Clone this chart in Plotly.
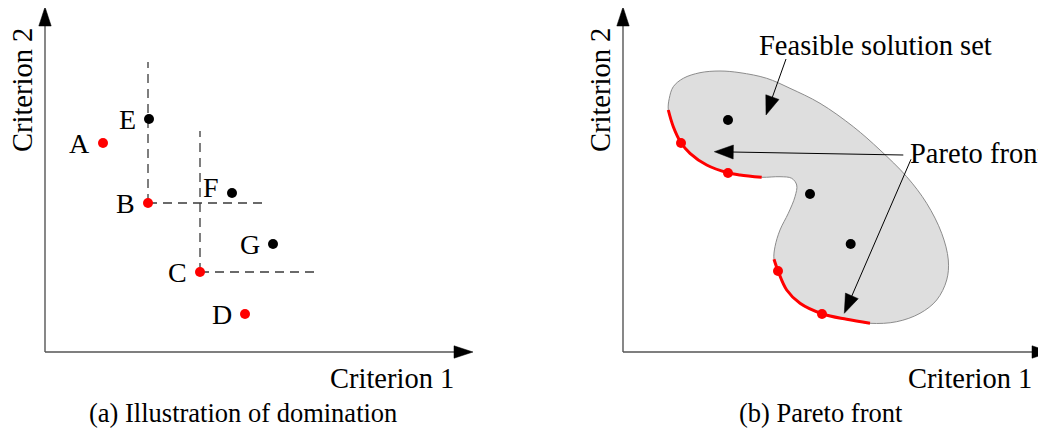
import math
import plotly.graph_objects as go

FONT = "Liberation Serif"

# ---------------- Panel (a): illustration of domination ----------------
dom_names = ["A", "B", "C", "D", "E", "F", "G"]
dom_x = [5.8, 10.3, 15.5, 20.0, 10.4, 18.7, 22.8]
dom_y = [20.9, 14.9, 8.0, 3.8, 23.3, 15.9, 10.8]
dom_nondominated = [True, True, True, True, False, False, False]

# dominance cones drawn from B and C
cone_points = ["B", "C"]
cone_top = [29.0, 22.1]
cone_right = [22.3, 27.3]

# ---------------- Panel (b): Pareto front ----------------
# upper boundary of the feasible set (from top of first front, over the top, to end of second front)
outline_top_x = [4.53, 4.63, 5.03, 6.03, 7.7, 9.7, 11.7, 14.37, 16.7, 19.7, 23.03, 25.7, 28.37,
                 30.37, 31.87, 32.53, 32.37, 31.37, 29.7, 27.37, 24.7]
outline_top_y = [24.2, 25.37, 26.53, 27.37, 27.93, 28.1, 27.93, 27.37, 26.37, 24.87, 22.53, 20.2, 17.53,
                 14.87, 11.87, 9.2, 7.2, 5.2, 3.87, 3.03, 2.87]
# neck between the two fronts
outline_neck_x = [15.1, 15.2, 15.7, 16.53, 17.2, 17.37, 16.87, 15.7, 13.87]
outline_neck_y = [9.27, 10.53, 12.2, 13.87, 15.53, 16.7, 17.37, 17.53, 17.47]
# Pareto front segments
front1_x = [4.53, 5.03, 5.8, 6.7, 8.37, 10.47, 11.7, 13.87]
front1_y = [24.2, 22.53, 20.93, 19.87, 18.7, 17.93, 17.7, 17.47]
front2_x = [15.1, 15.53, 16.37, 17.7, 19.97, 22.37, 24.7]
front2_y = [9.27, 8.03, 6.2, 4.87, 3.8, 3.27, 2.87]
# solutions
pareto_x = [5.8, 10.5, 15.5, 19.9]
pareto_y = [20.9, 17.9, 8.1, 3.8]
dominated_x = [10.5, 18.7, 22.77]
dominated_y = [23.2, 15.8, 10.8]

AXIS_TIP = 42.8   # axis arrow length (x)
AXIS_TOP = 34.5   # axis arrow length (y)

RED = "#ff0000"
PAGE_SHIFT = 0.8  # compensates the 8px page margin of the html body

fig = go.Figure()
shapes = []


def arrow(x0, y0, x1, y1, xref, yref, L=1.9, w=0.7, color="black", lw=1.0, linecolor=None):
    dx, dy = x1 - x0, y1 - y0
    n = math.hypot(dx, dy)
    ux, uy = dx / n, dy / n
    bx, by = x1 - L * ux, y1 - L * uy
    px, py = -uy, ux
    shapes.append(dict(type="line", xref=xref, yref=yref, x0=x0, y0=y0, x1=bx + 0.2 * ux, y1=by + 0.2 * uy,
                       line=dict(color=linecolor or color, width=lw)))
    path = (f"M {x1},{y1} L {bx + w * px},{by + w * py} "
            f"L {bx - w * px},{by - w * py} Z")
    shapes.append(dict(type="path", xref=xref, yref=yref, path=path,
                       fillcolor=color, line=dict(color=color, width=0.5)))


# axes for both panels
for xr, yr in (("x", "y"), ("x2", "y2")):
    arrow(0, 0, AXIS_TIP, 0, xr, yr, L=1.9, w=0.62, lw=1.4, linecolor="#555555")
    arrow(0, 0, 0, AXIS_TOP, xr, yr, L=1.9, w=0.62, lw=1.4, linecolor="#555555")

# ---- panel (a) ----
for name, top, right in zip(cone_points, cone_top, cone_right):
    i = dom_names.index(name)
    bx, by = dom_x[i], dom_y[i]
    fig.add_trace(go.Scatter(x=[bx, bx], y=[by, top], mode="lines", xaxis="x", yaxis="y",
                             line=dict(color="#3a3a3a", width=1.3, dash="9px,6px"), hoverinfo="skip"))
    fig.add_trace(go.Scatter(x=[bx, right], y=[by, by], mode="lines", xaxis="x", yaxis="y",
                             line=dict(color="#3a3a3a", width=1.3, dash="9px,6px"), hoverinfo="skip"))

fig.add_trace(go.Scatter(
    x=dom_x, y=dom_y, mode="markers", xaxis="x", yaxis="y",
    marker=dict(size=10, color=[RED if p else "black" for p in dom_nondominated])))

annotations = []
for name, x, y in zip(dom_names, dom_x, dom_y):
    annotations.append(dict(x=x, y=y, xref="x", yref="y", text=name, showarrow=False,
                            xanchor="right", yanchor="middle", xshift=-11,
                            yshift=6 if name == "F" else 0,
                            font=dict(family=FONT, size=28, color="black")))

# ---- panel (b) ----
blob_x = outline_top_x + front2_x[::-1][1:] + outline_neck_x[1:] + front1_x[::-1][1:]
blob_y = outline_top_y + front2_y[::-1][1:] + outline_neck_y[1:] + front1_y[::-1][1:]
fig.add_trace(go.Scatter(x=blob_x, y=blob_y, mode="lines", fill="toself", fillcolor="#dedede",
                         line=dict(color="#8c8c8c", width=1, shape="spline", smoothing=1.0),
                         xaxis="x2", yaxis="y2", hoverinfo="skip"))
for fx, fy in ((front1_x, front1_y), (front2_x, front2_y)):
    fig.add_trace(go.Scatter(x=fx, y=fy, mode="lines", xaxis="x2", yaxis="y2",
                             line=dict(color=RED, width=3, shape="spline", smoothing=1.0),
                             hoverinfo="skip"))
fig.add_trace(go.Scatter(x=pareto_x, y=pareto_y, mode="markers", xaxis="x2", yaxis="y2",
                         marker=dict(size=10, color=RED)))
fig.add_trace(go.Scatter(x=dominated_x, y=dominated_y, mode="markers", xaxis="x2", yaxis="y2",
                         marker=dict(size=10, color="black")))

# annotation arrows
arrow(16.3, 29.3, 14.3, 23.7, "x2", "y2")
arrow(28.03, 19.7, 9.13, 20.03, "x2", "y2")
arrow(28.8, 19.27, 22.13, 3.87, "x2", "y2")


def text(x, y, s, xref, yref, size=28.5, xanchor="center", angle=0):
    annotations.append(dict(x=x, y=y, xref=xref, yref=yref, text=s, showarrow=False,
                            xanchor=xanchor, yanchor="middle", textangle=angle,
                            font=dict(family=FONT, size=size, color="black")))


for xr, yr, cap in (("x", "y", "(a) Illustration of domination"), ("x2", "y2", "(b) Pareto front")):
    text(34.7, -2.6, "Criterion 1", xr, yr)
    text(-2.3, 26.2, "Criterion 2", xr, yr, angle=-90)
    text(19.75, -6.1, cap, xr, yr, size=26.5)

text(25.2, 30.7, "Feasible solution set", "x2", "y2")
text(28.5, 19.9, "Pareto front", "x2", "y2", xanchor="left")

fig.update_layout(
    width=1046, height=430, margin=dict(l=0, r=0, t=0, b=0),
    paper_bgcolor="white", plot_bgcolor="white", showlegend=False,
    xaxis=dict(domain=[0, 0.5], range=[-4.5 + PAGE_SHIFT, 47.8 + PAGE_SHIFT], visible=False),
    xaxis2=dict(domain=[0.5, 1], range=[-10.0 + PAGE_SHIFT, 42.3 + PAGE_SHIFT], visible=False),
    yaxis=dict(domain=[0, 1], range=[-7.8 - PAGE_SHIFT, 35.2 - PAGE_SHIFT], visible=False),
    yaxis2=dict(domain=[0, 1], range=[-7.8 - PAGE_SHIFT, 35.2 - PAGE_SHIFT], visible=False, anchor="x2"),
    shapes=shapes, annotations=annotations,
)

fig.write_html("out.html")
